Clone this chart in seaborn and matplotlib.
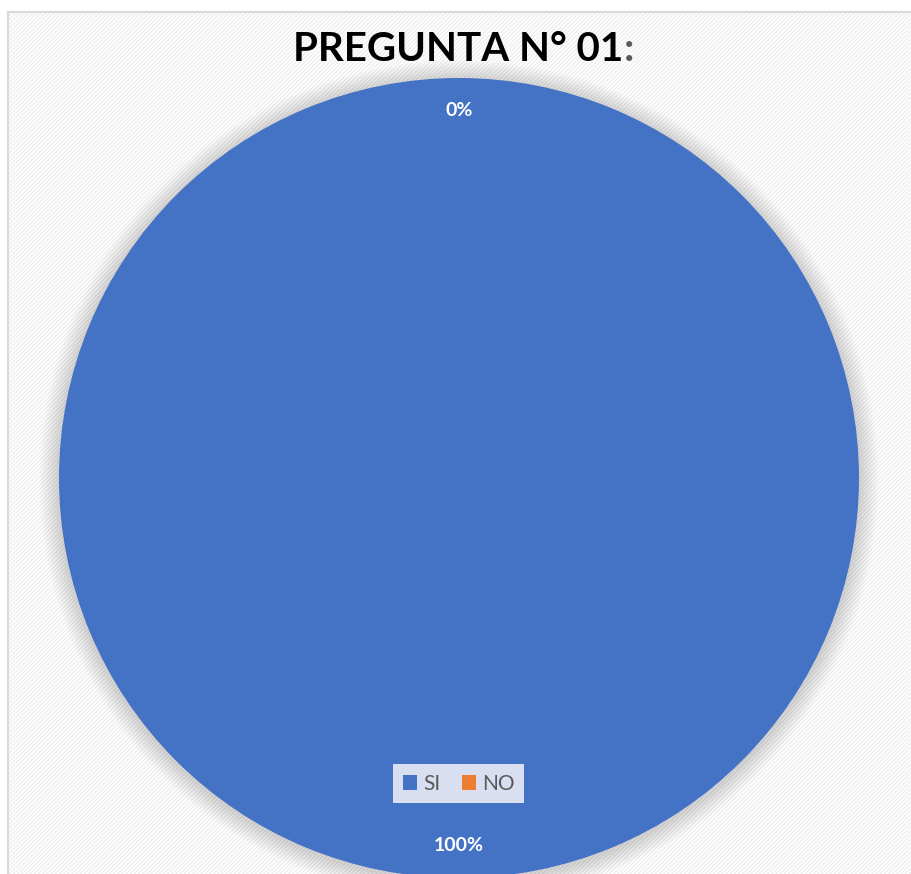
import matplotlib
matplotlib.use("Agg")
import matplotlib.pyplot as plt
from matplotlib.patches import Rectangle, Circle
import seaborn as sns

# Data
categories = ["SI", "NO"]
values = [100, 0]
colors = ["#4472C4", "#ED7D31"]
title = "PREGUNTA N° 01"

sns.set_theme(style="white")
plt.rcParams["font.family"] = ["Lato", "DejaVu Sans"]
plt.rcParams["hatch.color"] = "#EEEEEE"

fig = plt.figure(figsize=(9.12, 8.74), dpi=100)
fig.patch.set_facecolor("white")

# Background frame with faint diagonal texture
bg = fig.add_axes([0, 0, 1, 1])
bg.set_xlim(0, 912)
bg.set_ylim(874, 0)
bg.axis("off")
bg.add_patch(Rectangle((8, 12), 920, 900, facecolor="white",
                       edgecolor="#D9D9D9", linewidth=1.5))
bg.add_patch(Rectangle((9, 13), 920, 900, facecolor="none",
                       edgecolor="#EEEEEE", hatch="////////", linewidth=0))

# Title
fig.text(623 / 912, 0.943, title, ha="right", va="center",
         fontsize=29, fontweight="bold", color="black")
fig.text(624 / 912, 0.943, ":", ha="left", va="center",
         fontsize=29, fontweight="bold", color="#595959")

# Pie axes: center (459, 478) px, radius 400 px
cx, cy, r = 459, 478, 400
ax = fig.add_axes([(cx - r) / 912, (874 - cy - r) / 874, 2 * r / 912, 2 * r / 874])
ax.axis("off")

# soft shadow
for i in range(8):
    ax.add_patch(Circle((0, -0.005), 1.0 + 0.006 * (i + 1), facecolor="#000000",
                        alpha=0.018, edgecolor="none", zorder=0, clip_on=False))

wedges, texts, autotexts = ax.pie(
    values, colors=colors, startangle=90, counterclock=False,
    autopct="%1.0f%%", pctdistance=0.92, radius=1.0,
    wedgeprops=dict(linewidth=0),
    textprops=dict(color="white", fontsize=14, fontweight="bold"))
for w in wedges:
    w.set_zorder(2)
for t in autotexts:
    t.set_zorder(3)
ax.set_xlim(-1, 1)
ax.set_ylim(-1, 1)
ax.set_aspect("auto")

leg = ax.legend(wedges, categories, loc="center", bbox_to_anchor=(0.5, 0.118),
                ncol=2, frameon=True, fontsize=15, handlelength=0.7,
                handleheight=0.7, handletextpad=0.3, columnspacing=1.0,
                borderpad=0.45, fancybox=False)
leg.get_frame().set_facecolor("#D9DFF0")
leg.get_frame().set_alpha(1)
leg.get_frame().set_linewidth(0)
for t in leg.get_texts():
    t.set_color("#595959")

fig.savefig("out.png", dpi=100, facecolor="white")
